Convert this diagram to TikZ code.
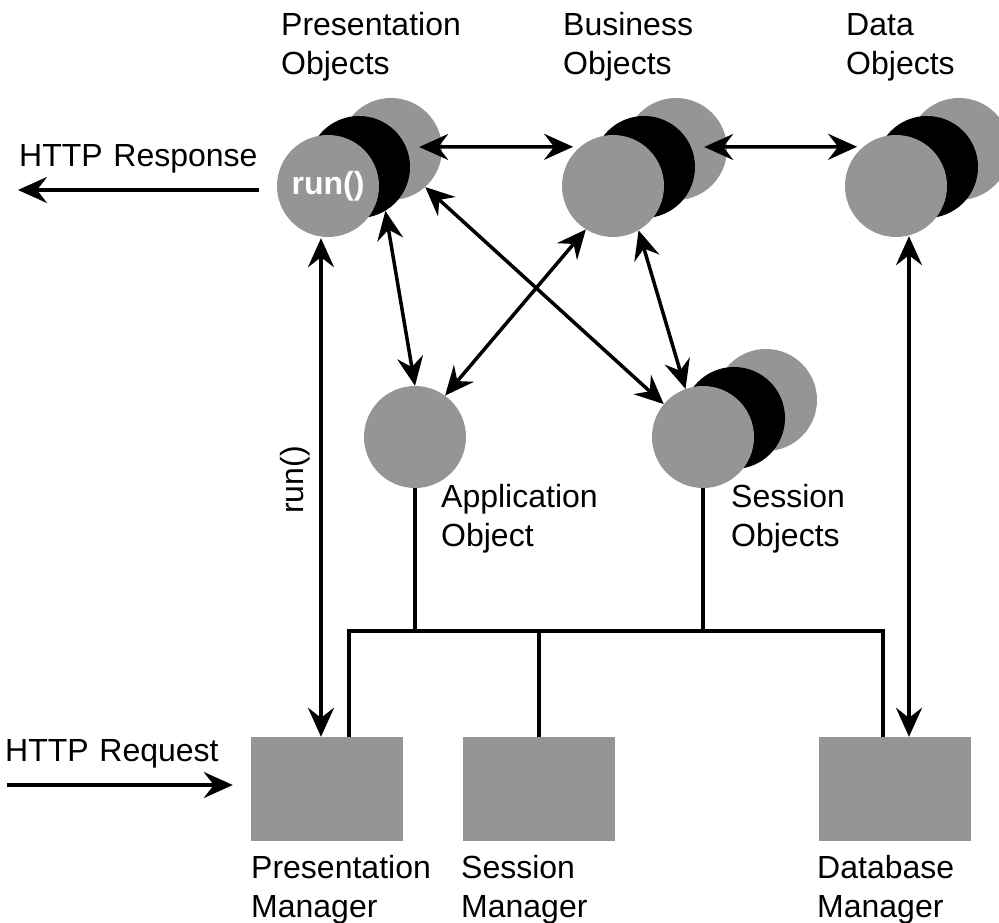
\documentclass[tikz,border=0pt]{standalone}
\usepackage{fontspec}
\setmainfont{Liberation Sans}
\usetikzlibrary{arrows.meta,calc}
\definecolor{disc}{HTML}{959595}
\begin{document}
\begin{tikzpicture}[x=1pt,y=-1pt,
  >={Stealth[length=29pt,width=26pt,inset=10pt]},
  obj/.style={circle,fill=disc,minimum size=102pt,inner sep=0pt},
  ring/.style={circle,fill=black,minimum size=102pt,inner sep=0pt},
  manager/.style={rectangle,fill=disc,minimum width=152pt,minimum height=104pt,inner sep=0pt},
  lbl/.style={anchor=base west,inner sep=0pt,align=left,text width=300pt,font=\fontsize{32}{39}\selectfont},
  link/.style={line width=3.5pt,<->},
  flow/.style={line width=3.5pt,->},
  wire/.style={line width=3.5pt},
]
\useasboundingbox (0,0) rectangle (999,923);

% object stacks: back disc, black ring, front disc
\node[obj]  (pres2) at (391,149) {};
\node[ring] (pres1) at (359,167) {};
\node[obj,font=\fontsize{32}{39}\selectfont\bfseries,text=white] (pres) at (328,186) {run()};

\node[obj]  (bus2) at (676,149) {};
\node[ring] (bus1) at (644,167) {};
\node[obj]  (bus)  at (613,186) {};

\node[obj]  (data2) at (959,149) {};
\node[ring] (data1) at (927,167) {};
\node[obj]  (data)  at (896,186) {};

\node[obj]  (sess2) at (766,400) {};
\node[ring] (sess1) at (734,418) {};
\node[obj]  (sess)  at (703,437) {};

\node[obj] (app) at (415,437) {};

% managers
\node[manager] (pm)  at (327,789) {};
\node[manager] (sm)  at (539,789) {};
\node[manager] (dbm) at (895,789) {};

% labels
\node[lbl] (tPO)   at (281,36)  {Presentation\\Objects};
\node[lbl] (tBO)   at (563,36)  {Business\\Objects};
\node[lbl] (tDO)   at (846,36)  {Data\\Objects};
\node[lbl] (tResp) at (19,167)  {HTTP Response};
\node[lbl] (tReq)  at (5,761)   {HTTP Request};
\node[lbl] (tAO)   at (441,507) {Application\\Object};
\node[lbl] (tSO)   at (731,507) {Session\\Objects};
\node[lbl] (tPM)   at (251,878) {Presentation\\Manager};
\node[lbl] (tSM)   at (461,878) {Session\\Manager};
\node[lbl] (tDM)   at (817,878) {Database\\Manager};
\node[rotate=90,inner sep=0pt,font=\fontsize{32}{39}\selectfont] (tRun) at (295,480) {run()};

% shared bus between objects and managers
\coordinate (busL) at (349,631);
\coordinate (busR) at (883,631);
\draw[wire] (busL |- pm.north) -- (busL) -- (busR) -- (busR |- dbm.north);
\draw[wire] (app.south) -- (app.south |- busL);
\draw[wire] (sess.south) -- (sess.south |- busL);
\draw[wire] (sm.north) -- (sm.north |- busL);

% object interactions
\draw[link] ($(pres2.east)+(-23,-2)$) -- ($(bus.130)+(-7,0)$);
\draw[link] ($(bus2.east)+(-23,-2)$) -- ($(data.130)+(-6,0)$);
\draw[link] (pres1.-59) -- (app.north);
\draw[link] (pres2.-48) -- (sess.140);
\draw[link] (bus.-122) -- (app.54);
\draw[link] (bus.-60) -- (sess.110);

\coordinate (runtop) at ($(pres.south)+(-7,1)$);
\draw[link] (runtop) -- (runtop |- pm.north);
\coordinate (dbtop) at ($(data.south)+(13,-1)$);
\draw[link] (dbtop) -- (dbtop |- dbm.north);

% HTTP traffic
\coordinate (respA) at (259,190);
\coordinate (respB) at (18,190);
\draw[flow] (respA) -- (respB);
\coordinate (reqA) at (7,785);
\draw[flow] (reqA) -- ($(pm.west |- reqA)+(-18,0)$);
\end{tikzpicture}
\end{document}
